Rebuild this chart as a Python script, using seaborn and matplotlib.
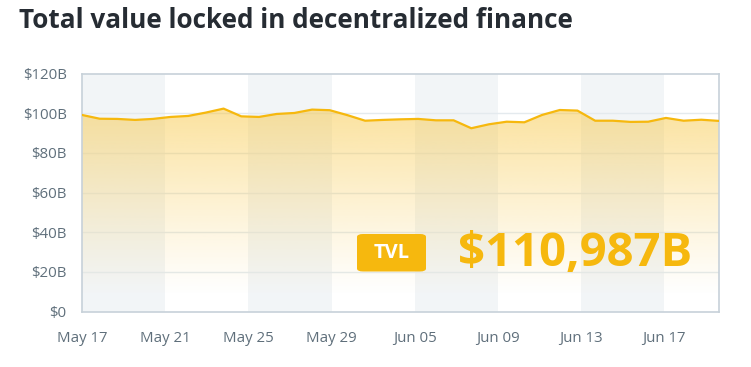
import numpy as np
import matplotlib
matplotlib.use("Agg")
import matplotlib.pyplot as plt
import seaborn as sns
from matplotlib.patches import FancyBboxPatch

# TVL in billions of USD, one value per sample
tvl = [99.1, 97.2, 97.1, 96.6, 97.1, 98.1, 98.6, 100.3, 102.3, 98.4,
       98.1, 99.6, 100.1, 101.8, 101.5, 99.0, 96.2, 96.6, 96.9, 97.1,
       96.4, 96.4, 92.4, 94.4, 95.7, 95.4, 99.1, 101.6, 101.3, 96.2,
       96.2, 95.6, 95.7, 97.6, 96.2, 96.7, 96.1]
x_labels = ["May 17", "May 21", "May 25", "May 29", "Jun 05", "Jun 09", "Jun 13", "Jun 17"]
y_ticks = [0, 20, 40, 60, 80, 100, 120]
y_labels = ["$0", "$20B", "$40B", "$60B", "$80B", "$100B", "$120B"]
headline = "$110,987B"
badge = "TVL"
title = "Total value locked in decentralized finance"

sns.set_style("white")
plt.rcParams['font.family'] = ['Open Sans', 'DejaVu Sans']

amber = "#f6b80e"
grey_txt = "#5f6f7b"
frame = "#c7d1d9"

x = np.arange(len(tvl))
tick_step = 4.7
tick_pos = [i * tick_step for i in range(len(x_labels))]

fig = plt.figure(figsize=(7.51, 3.67), dpi=100)
ax = fig.add_axes([0.1092, 0.1512, 0.8482, 0.6485])

# alternating background bands
for i in range(0, len(tick_pos), 2):
    ax.axvspan(tick_pos[i], tick_pos[i] + tick_step, color="#f2f5f7", lw=0, zorder=0)

for yv in y_ticks[1:-1]:
    ax.axhline(yv, color="#e4eaee", lw=1, zorder=1)

# gradient area under the line
poly = ax.fill_between(x, tvl, 0, color="none", lw=0, zorder=2)
grad = np.zeros((256, 1, 4))
rgb = matplotlib.colors.to_rgb("#f8c640")
grad[:, 0, :3] = rgb
ys = np.linspace(0, max(tvl), 256)
grad[:, 0, 3] = np.clip((ys - 8) / (max(tvl) - 8), 0, 1) ** 1.1 * 0.5
im = ax.imshow(grad, extent=[x[0], x[-1], 0, max(tvl)], origin="lower",
               aspect="auto", zorder=2)
path = poly.get_paths()[0]
im.set_clip_path(path, transform=ax.transData)

sns.lineplot(x=x, y=tvl, ax=ax, color=amber, lw=1.6, zorder=3)

ax.set_xlim(x[0], x[-1])
ax.set_ylim(0, 120)
ax.set_yticks(y_ticks)
ax.set_yticklabels(y_labels)
ax.set_xticks(tick_pos)
ax.set_xticklabels(x_labels)
ax.tick_params(axis="both", length=0, colors=grey_txt, labelsize=10.8)
ax.tick_params(axis="x", pad=14)
ax.tick_params(axis="y", pad=11)
for s in ax.spines.values():
    s.set_color(frame)
    s.set_linewidth(1.2)
ax.set_xlabel("")
ax.set_ylabel("")

# badge + headline figure
bx = FancyBboxPatch((357 / 751, 1 - 271.5 / 367), 69 / 751, 37.5 / 367,
                    boxstyle="round,pad=0,rounding_size=0.008",
                    transform=fig.transFigure, fc=amber, ec="none", zorder=5)
fig.patches.append(bx)
fig.text(391.5 / 751, 1 - 253 / 367, badge, color="white", fontsize=14.5,
         fontweight="bold", ha="center", va="center", zorder=6)
fig.text(458 / 751, 1 - 254 / 367, headline, color=amber, fontsize=34,
         fontweight="bold", ha="left", va="center", zorder=6)

fig.text(19 / 751, 1 - 21 / 367, title, color="#262c33", fontsize=18.8,
         fontweight="bold", ha="left", va="center")

fig.savefig("out.png", dpi=100)
